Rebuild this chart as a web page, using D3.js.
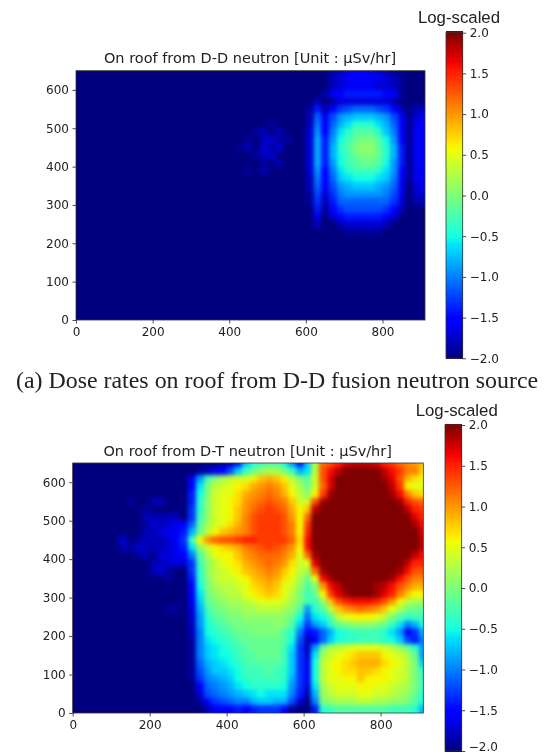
<!DOCTYPE html>
<html><head><meta charset="utf-8">
<script src="https://cdn.jsdelivr.net/npm/d3@7"></script>
<style>
html,body{margin:0;padding:0;background:#fff}
svg{display:block;filter:blur(0.45px)}
text{fill:#222}
.tick text,.ttl{font-family:"DejaVu Sans",sans-serif}
</style></head><body>
<svg id="fig" width="547" height="755"></svg>
<script>
// Dose rates, log10(uSv/hr) x 10, on a 20-unit mesh. Rows run from the top of the plot (y 640-660) down to y 0-20.
// Each row is right-aligned to column 45 (x 900-920); columns left of the listed values sit at the floor.
const ddRows = [
[-20,-20,-20,-18,-18,-16,-15,-15,-16,-17,-18,-19,-20,-20,-20,-20],
[-20,-20,-20,-18,-17,-16,-15,-15,-16,-16,-17,-18,-19,-20,-20,-20],
[-20,-20,-20,-18,-17,-16,-16,-16,-16,-17,-17,-18,-19,-20,-20,-20],
[-20,-20,-19,-16,-15,-14,-14,-14,-14,-14,-15,-16,-19,-20,-20,-20],
[-20,-18,-20,-19,-17,-17,-17,-17,-17,-17,-17,-18,-20,-20,-20,-20],
[-19,-14,-18,-15,-13,-12,-11,-11,-11,-12,-13,-15,-18,-20,-18,-18],
[-18,-11,-16,-12,-9,-8,-7,-7,-7,-8,-9,-12,-16,-19,-17,-16],
[-20,-20,-20,-20,-19,-20,-20,-20,-20,-18,-10,-15,-11,-8,-6,-4,-4,-4,-6,-8,-11,-15,-19,-16,-15],
[-20,-20,-19,-18,-20,-18,-20,-20,-20,-17,-9,-15,-10,-6,-4,-2,-2,-2,-4,-7,-10,-15,-19,-16,-15],
[-20,-19,-20,-18,-17,-19,-19,-20,-20,-17,-8,-14,-9,-5,-3,-1,0,0,-2,-5,-9,-15,-19,-15,-15],
[-19,-18,-20,-17,-19,-17,-20,-20,-20,-17,-8,-14,-8,-4,-2,0,1,1,-1,-4,-8,-14,-19,-15,-15],
[-20,-20,-19,-18,-17,-20,-20,-20,-20,-17,-8,-14,-8,-5,-3,-1,0,0,-1,-4,-8,-14,-19,-15,-15],
[-20,-20,-20,-19,-20,-18,-20,-20,-20,-17,-8,-14,-9,-5,-3,-2,-1,-1,-2,-5,-9,-14,-19,-16,-15],
[-20,-19,-20,-18,-20,-20,-20,-20,-20,-17,-9,-15,-10,-6,-4,-3,-3,-3,-4,-6,-9,-15,-19,-16,-15],
[-18,-10,-15,-11,-7,-6,-5,-5,-5,-6,-7,-10,-15,-19,-16,-16],
[-18,-11,-16,-12,-9,-8,-7,-7,-7,-8,-9,-11,-16,-20,-17,-16],
[-19,-12,-17,-13,-10,-9,-9,-9,-9,-9,-10,-12,-16,-20,-17,-17],
[-19,-13,-18,-14,-11,-11,-11,-11,-11,-11,-11,-13,-17,-20,-18,-18],
[-20,-14,-19,-15,-13,-12,-12,-12,-12,-12,-13,-15,-18,-20,-20,-20],
[-20,-16,-20,-17,-15,-14,-14,-14,-14,-14,-15,-17,-20,-20,-20,-20],
[-20,-18,-20,-20,-18,-17,-17,-17,-17,-17,-18,-20,-20,-20,-20,-20],
[-20,-20,-20,-20,-20,-19,-19,-19,-19,-19,-20,-20,-20,-20,-20,-20],
[],[],[],[],[],[],[],[],[],[],[]
];
const dtRows = [
[-19,-18,-14,-7,-4,-3,-2,-2,-5,-9,-14,-7,2,12,13,15,17,18,18,18,17,15,14,12,11,10,8],
[-19,-18,-16,-15,-12,-7,-3,-1,1,2,2,0,-3,-8,-6,3,13,16,18,20,20,20,20,20,18,16,14,11,11,7],
[-16,-9,-3,0,2,3,4,4,6,8,9,8,6,3,0,-2,4,13,17,20,20,20,20,20,20,19,17,13,9,7,6],
[-15,-6,0,3,4,5,6,7,9,10,11,10,8,5,2,-1,4,12,17,20,20,20,20,20,20,20,18,14,6,5,5],
[-14,-5,0,4,5,5,7,9,10,11,12,11,9,6,3,1,6,14,19,20,20,20,20,20,20,20,19,16,11,8,7],
[-19,-20,-20,-18,-18,-20,-20,-20,-14,-4,1,4,5,6,7,10,11,12,13,12,11,8,4,4,13,19,20,20,20,20,20,20,20,20,20,19,15,13,12],
[-19,-20,-20,-20,-20,-20,-13,-4,1,4,5,6,8,10,12,13,14,13,12,9,6,8,18,20,20,20,20,20,20,20,20,20,20,20,18,15,14],
[-18,-18,-18,-18,-18,-20,-13,-3,1,4,5,6,8,11,13,14,14,14,13,10,6,12,20,20,20,20,20,20,20,20,20,20,20,20,20,17,15],
[-19,-17,-18,-17,-16,-15,-11,-2,2,4,5,7,9,11,13,14,14,14,13,11,6,14,20,20,20,20,20,20,20,20,20,20,20,20,20,19,16],
[-18,-18,-17,-16,-16,-14,-8,-1,3,6,8,9,10,11,13,14,14,14,13,11,6,15,20,20,20,20,20,20,20,20,20,20,20,20,20,20,17],
[-17,-20,-19,-18,-18,-18,-17,-15,-13,-3,6,10,12,13,13,14,15,15,14,14,14,14,12,7,16,20,20,20,20,20,20,20,20,20,20,20,20,20,20,18],
[-18,-19,-17,-18,-18,-18,-17,-16,-14,-6,1,4,6,7,8,9,11,12,13,14,13,12,10,6,16,20,20,20,20,20,20,20,20,20,20,20,20,20,20,18],
[-19,-18,-20,-17,-17,-16,-15,-10,-2,2,5,6,6,8,10,11,12,12,12,11,9,5,12,19,20,20,20,20,20,20,20,20,20,20,20,20,18,16],
[-18,-18,-17,-17,-17,-13,-3,1,3,5,6,7,9,10,11,12,11,10,7,4,5,17,20,20,20,20,20,20,20,20,20,20,20,18,15,15],
[-18,-17,-19,-20,-20,-13,-4,1,3,4,5,6,8,9,10,11,10,8,6,3,2,12,19,20,20,20,20,20,20,20,20,20,19,16,13,13],
[-19,-20,-20,-14,-4,0,3,4,4,5,6,8,9,10,9,7,5,2,-1,5,16,19,20,20,20,20,20,20,20,19,16,13,11,11],
[-15,-5,0,2,3,3,4,5,7,8,9,8,5,4,1,-2,0,10,16,18,20,20,20,20,19,18,16,13,11,9,9],
[-16,-6,-1,1,2,3,3,5,6,7,8,7,5,3,0,-3,-1,6,14,17,19,20,20,20,19,17,15,11,8,6,6],
[-16,-7,-1,0,1,2,2,3,4,5,5,5,4,2,0,-3,-3,1,8,13,15,16,16,16,15,13,10,6,3,2,2],
[-19,-19,-20,-17,-8,-3,-1,0,1,1,2,2,3,3,3,2,1,-2,-9,-4,-2,3,8,10,11,12,11,10,8,5,2,0,-1,-1],
[-17,-9,-4,-2,-1,0,0,1,1,1,1,1,1,-1,-5,-11,-6,-5,-2,3,5,6,6,6,5,3,0,-2,-4,-3,-3],
[-18,-9,-5,-3,-2,-1,0,0,0,0,0,1,0,-2,-7,-13,-9,-7,-4,-1,0,1,1,1,0,-1,-3,-6,-10,-8,-5],
[-18,-10,-5,-4,-3,-2,-1,-1,0,0,0,0,-2,-4,-10,-15,-14,-11,-8,-5,-4,-3,-3,-3,-3,-4,-6,-9,-15,-13,-8],
[-19,-10,-6,-5,-4,-3,-2,-1,-1,-1,-1,-1,-2,-5,-12,-18,-16,-11,-7,-5,-4,-4,-3,-3,-3,-4,-5,-7,-12,-14,-10],
[-19,-10,-7,-6,-5,-4,-3,-2,-1,-1,-1,-1,-3,-6,-13,-18,-9,-1,2,3,4,5,5,5,5,4,3,1,-1,-4,-9],
[-19,-10,-7,-6,-5,-5,-3,-2,-2,-1,-1,-1,-3,-7,-13,-17,-6,2,4,5,6,7,8,8,8,6,5,4,2,-1,-9],
[-19,-11,-8,-7,-6,-5,-4,-3,-2,-2,-2,-2,-3,-7,-13,-16,-5,3,5,6,7,8,9,9,9,7,6,5,3,0,-7],
[-19,-12,-9,-7,-7,-6,-5,-3,-3,-3,-2,-3,-4,-7,-13,-16,-5,3,5,6,7,7,8,8,7,6,5,4,3,0,-4],
[-19,-13,-10,-9,-8,-7,-5,-4,-3,-3,-3,-3,-4,-8,-13,-16,-5,3,5,5,6,6,8,6,6,6,5,4,3,0,-3],
[-20,-15,-11,-10,-9,-8,-6,-5,-4,-4,-4,-4,-5,-9,-13,-17,-6,2,4,5,5,5,6,6,5,5,4,3,2,0,-3],
[-17,-12,-11,-10,-9,-8,-7,-6,-5,-6,-6,-6,-10,-14,-18,-8,1,3,4,4,4,5,5,4,4,3,2,1,-1,-4],
[-19,-15,-13,-12,-11,-10,-10,-8,-7,-7,-8,-8,-12,-17,-20,-10,0,1,2,2,2,3,3,2,2,1,1,0,-2,-5],
[-18,-16,-15,-15,-14,-15,-14,-13,-13,-13,-15,-19,-20,-20,-14,-4,-3,-2,-2,-2,-2,-2,-2,-2,-3,-3,-3,-4,-8]
];
const floorValue = -20;
const xTicks = [0,200,400,600,800];
const yTicks = [0,100,200,300,400,500,600];
const barTicks = [-2,-1.5,-1,-0.5,0,0.5,1,1.5,2];
const jetStops = [0,.11,.125,.34,.35,.375,.64,.65,.66,.89,.91,1];
const jetColors = ["#00007f","#0000ff","#0000ff","#00dbff","#00e5f7","#15ffe2","#efff08","#f7f600","#ffec00","#ff1300","#f40000","#7f0000"];

const columns = 46, meshStep = 20, xMax = 911, yMax = 650;
const jet = d3.scaleLinear().domain(jetStops).range(jetColors).clamp(true);
const dose = d3.scaleLinear().domain([-2,2]).range([0,1]);
const svg = d3.select("#fig");
const defs = svg.append("defs");
const f = defs.append("filter").attr("id","soft").attr("x","-5%").attr("y","-5%").attr("width","110%").attr("height","110%")
  .attr("color-interpolation-filters","sRGB");
f.append("feGaussianBlur").attr("stdDeviation",2.3);

function panel(id, rows, box, title, bar, label){
  const x = d3.scaleLinear([0,xMax],[box.l,box.r]);
  const y = d3.scaleLinear([0,yMax],[box.b,box.t]);
  defs.append("clipPath").attr("id","clip"+id).append("rect")
    .attr("x",box.l).attr("y",box.t).attr("width",box.r-box.l).attr("height",box.b-box.t);
  const cells = rows.flatMap((row,r)=>{
    const full = Array(columns-row.length).fill(floorValue).concat(row);
    const top = (rows.length-r)*meshStep;
    return full.map((v,c)=>({c,top,v:v/10}));
  });
  const g = svg.append("g").attr("clip-path",`url(#clip${id})`).append("g").attr("filter","url(#soft)").attr("shape-rendering","crispEdges");
  g.selectAll("rect").data(cells).join("rect")
    .attr("x",d=>x(d.c===0?-40:d.c*meshStep))
    .attr("width",d=>x((d.c+1)*meshStep)-x(d.c===0?-40:d.c*meshStep)+1)
    .attr("y",d=>y(d.top))
    .attr("height",d=>y(d.top===meshStep?-40:d.top-meshStep)-y(d.top)+1)
    .attr("fill",d=>jet(dose(d.v)));
  svg.append("rect").attr("x",box.l).attr("y",box.t).attr("width",box.r-box.l).attr("height",box.b-box.t)
    .attr("fill","none").attr("stroke","#333").attr("stroke-width",.8);
  const style = s=>s.call(a=>a.select(".domain").remove()).call(a=>a.selectAll("line").attr("stroke","#222").attr("stroke-width",.8))
    .call(a=>a.selectAll("text").attr("font-size",12).attr("fill","#222").attr("font-family",null));
  svg.append("g").attr("transform",`translate(0,${box.b})`)
    .call(d3.axisBottom(x).tickValues(xTicks).tickSize(3.5).tickPadding(3.5)).call(style);
  svg.append("g").attr("transform",`translate(${box.l},0)`)
    .call(d3.axisLeft(y).tickValues(yTicks).tickSize(3.5).tickPadding(3.5)).call(style);
  svg.append("text").attr("class","ttl").attr("x",box.titleX).attr("y",box.titleY).attr("text-anchor","middle")
    .attr("font-size",14.5).text(title);

  const c = d3.scaleLinear([-2,2],[bar.b,bar.t]);
  const levels = d3.range(0,256).map(i=>-2+4*i/255);
  svg.append("g").attr("shape-rendering","crispEdges").selectAll("rect").data(levels).join("rect")
    .attr("x",bar.l).attr("width",bar.r-bar.l)
    .attr("y",d=>c(d)-(bar.b-bar.t)/256).attr("height",(bar.b-bar.t)/256+1)
    .attr("fill",d=>jet(dose(d)));
  svg.append("rect").attr("x",bar.l).attr("y",bar.t).attr("width",bar.r-bar.l).attr("height",bar.b-bar.t)
    .attr("fill","none").attr("stroke","#333").attr("stroke-width",.8);
  const ba = svg.append("g").attr("transform",`translate(${bar.r},0)`)
    .call(d3.axisRight(c).tickValues(barTicks).tickFormat(d3.format(".1f")).tickSize(3.5).tickPadding(3.5)).call(style);
  // keep the lowest label of the bottom colorbar inside the page
  ba.selectAll(".tick text").filter(d=>c(d)>745).attr("y",-4).attr("dy","0.32em");
  svg.append("text").attr("x",bar.labelX).attr("y",bar.labelY).attr("text-anchor","middle")
    .attr("font-family","Liberation Sans").attr("font-size",16.8).text(label);
}

panel("a", ddRows, {l:76,r:425,t:70.7,b:320,titleX:250,titleY:63},
  "On roof from D-D neutron [Unit : µSv/hr]", {l:446,r:462.7,t:32.7,b:358.3,labelX:459,labelY:22.5}, "Log-scaled");
panel("b", dtRows, {l:72.7,r:423.3,t:463,b:713,titleX:247.7,titleY:455.5},
  "On roof from D-T neutron [Unit : µSv/hr]", {l:445,r:461.7,t:425,b:751,labelX:456.7,labelY:415.5}, "Log-scaled");

svg.append("text").attr("x",16).attr("y",388).attr("font-family","Liberation Serif").attr("font-size",23.9).attr("fill","#111")
  .text("(a) Dose rates on roof from D-D fusion neutron source");
</script></body></html>
